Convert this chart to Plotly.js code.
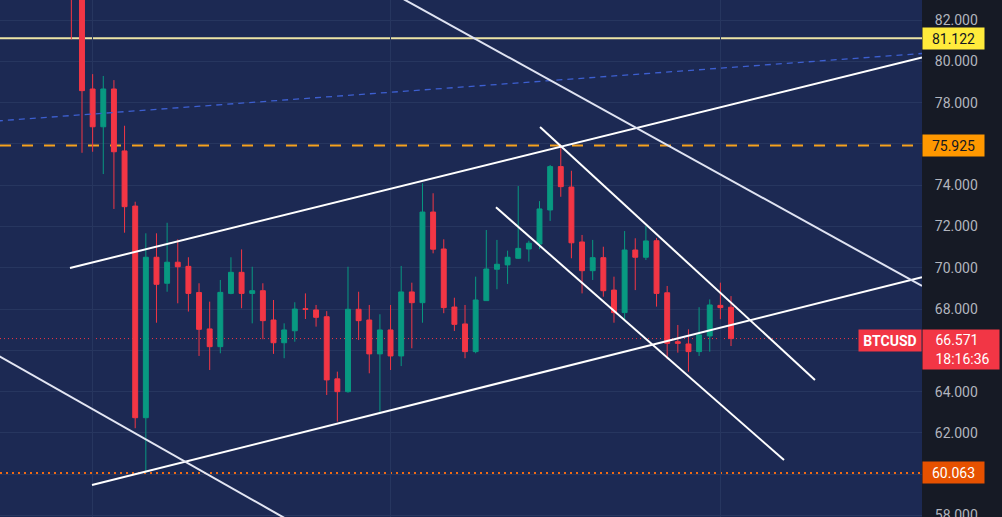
<!DOCTYPE html>
<html>
<head>
<meta charset="utf-8">
<script src="https://cdn.plot.ly/plotly-3.0.1.min.js"></script>
<style>
  html, body { margin: 0; padding: 0; background: #161a25; }
  #chart { width: 1002px; height: 517px; }
</style>
</head>
<body>
<div id="chart"></div>
<script>
// ---- Candle data (BTCUSD, values in thousands) ----
const candleIndex = [-1,0,1,2,3,4,5,6,7,8,9,10,11,12,13,14,15,16,17,18,19,20,21,22,23,24,25,26,27,28,29,30,31,32,33,34,35,36,37,38,39,40,41,42,43,44,45,46,47,48,49,50,51,52,53,54,55,56,57,58,59,60,61];
const openPrices  = [85.20,83.40,78.66,76.83,78.66,75.66,72.99,62.74,70.51,69.25,70.27,70.07,68.80,67.04,66.18,68.76,69.78,68.76,68.89,67.47,66.37,66.95,68.02,67.96,67.63,64.62,64.00,67.99,67.47,65.83,66.99,65.73,68.83,68.31,72.70,70.91,68.10,67.28,65.94,68.41,69.93,70.14,70.46,70.91,71.15,72.80,74.90,73.91,71.25,69.86,70.49,68.92,67.83,70.86,70.51,71.31,68.79,66.42,66.31,65.94,66.70,68.18,68.09];
const highPrices  = [85.60,83.60,79.38,79.29,79.09,76.88,73.20,71.67,71.67,72.18,71.38,70.51,69.25,68.36,69.41,70.51,70.89,70.05,69.25,68.44,67.31,68.33,68.76,68.20,67.90,64.97,70.05,68.84,68.20,67.75,68.20,70.09,69.28,74.09,73.61,71.38,68.55,68.20,69.57,71.83,71.35,70.83,73.96,71.31,73.23,74.98,75.95,74.70,71.59,71.35,71.02,69.57,71.78,71.43,72.02,71.44,69.12,67.23,67.02,68.09,68.47,69.28,68.63];
const lowPrices   = [81.06,75.57,75.62,74.54,72.85,71.70,62.23,60.06,67.34,68.84,68.28,67.88,65.73,65.05,65.86,68.72,68.04,67.31,66.54,65.83,65.62,66.42,67.52,67.15,63.84,62.55,63.95,66.50,64.89,63.03,65.05,65.24,66.10,67.34,70.70,67.80,66.94,65.62,65.86,68.41,68.96,69.22,70.43,70.30,70.90,72.27,73.44,70.46,68.76,69.41,68.60,67.34,67.47,68.92,70.38,68.12,65.57,65.89,64.97,65.73,65.94,67.51,66.21];
const closePrices = [83.40,78.58,76.83,78.66,75.62,72.96,62.74,70.51,69.20,70.27,70.05,68.76,67.02,66.18,68.81,69.78,68.76,68.89,67.44,66.37,66.99,68.00,67.98,67.60,64.57,64.00,67.99,67.44,65.83,66.99,65.73,68.83,68.31,72.70,70.90,68.07,67.26,65.94,68.44,69.94,70.17,70.51,70.94,71.19,72.85,74.90,73.93,71.21,69.86,70.49,68.89,67.83,70.86,70.51,71.30,68.76,66.34,66.34,65.94,66.75,68.20,68.07,66.571];

// ---- Axis ticks (labels hidden behind the price boxes are left blank) ----
const yTickValues = [58,60,62,64,66,68,70,72,74,76,78,80,82];
const yTickLabels = ["58.000","","62.000","64.000","","68.000","70.000","72.000","74.000","","78.000","80.000","82.000"];
const xGridValues = [1,29,60];

// ---- Horizontal levels ----
const resistanceLevel = 81.122;
const keyLevel = 75.925;
const supportLevel = 60.063;
const lastPrice = 66.571;
const symbolName = "BTCUSD";
const countdown = "18:16:36";

// ---- Trend lines (candle index, price) ----
const upperChannelX = [-1.13, 78.95];   const upperChannelY = [69.99, 80.19];
const lowerChannelX = [0.94, 78.95];    const lowerChannelY = [59.48, 69.54];
const longDescX = [29.0, 78.95];        const longDescY = [83.36, 69.12];
const leftDescX = [-8.0, 20.0];         const leftDescY = [65.78, 57.60];
const shortUpperX = [43.05, 68.89];     const shortUpperY = [76.82, 64.57];
const shortLowerX = [38.91, 65.98];     const shortLowerY = [72.93, 60.69];
const blueDashX = [-8.0, 78.95];        const blueDashY = [77.11, 80.38];

const GREEN = '#089981', RED = '#f23645';

function line(x, y, color, width, dash) {
  return {type:'scatter', mode:'lines', x:x, y:y, hoverinfo:'skip',
          line:{color:color, width:width, dash:dash || 'solid'}, showlegend:false};
}

const traces = [
  line(blueDashX, blueDashY, '#3d5fd0', 1.3, '6px,5px'),
  {
    type:'candlestick', x:candleIndex, open:openPrices, high:highPrices, low:lowPrices, close:closePrices,
    increasing:{line:{color:GREEN, width:1}, fillcolor:GREEN},
    decreasing:{line:{color:RED, width:1}, fillcolor:RED},
    whiskerwidth:0, hoverinfo:'skip', showlegend:false
  },
  line(upperChannelX, upperChannelY, '#ffffff', 2),
  line(lowerChannelX, lowerChannelY, '#ffffff', 2),
  line(longDescX, longDescY, '#dfe3f2', 2),
  line(leftDescX, leftDescY, '#e3e6f3', 2),
  line(shortUpperX, shortUpperY, '#ffffff', 2),
  line(shortLowerX, shortLowerY, '#ffffff', 2)
];

function hLevel(y, color, width, dash) {
  return {type:'line', xref:'paper', yref:'y', x0:0, x1:1, y0:y, y1:y, layer:'below',
          line:{color:color, width:width, dash:dash}};
}

const labelFont = {family:'Roboto, "Liberation Sans", sans-serif', size:14};

function axisLabel(y, text, bg, fg) {
  return {xref:'paper', yref:'y', x:1, y:y, xanchor:'left', yanchor:'middle', showarrow:false,
          text:text, bgcolor:bg, font:Object.assign({color:fg}, labelFont),
          width:57, height:17, borderpad:2, align:'center'};
}

const layout = {
  width:1002, height:517,
  margin:{l:0, r:80, t:0, b:0},
  paper_bgcolor:'#161a25',
  plot_bgcolor:'#1c2953',
  showlegend:false,
  hovermode:false,
  dragmode:false,
  boxgap:0.34,
  xaxis:{
    type:'linear', range:[-7.707, 78.95], rangeslider:{visible:false},
    tickvals:xGridValues, showticklabels:false, showgrid:true, gridcolor:'#27365f', gridwidth:1,
    zeroline:false, showline:false, fixedrange:true
  },
  yaxis:{
    side:'right', range:[57.93, 82.97], tickvals:yTickValues, ticktext:yTickLabels,
    ticks:'outside', ticklen:9, tickcolor:'rgba(0,0,0,0)', ticklabeloverflow:'allow',
    tickfont:{family:'Roboto, "Liberation Sans", sans-serif', size:14, color:'#b2b5be'},
    showgrid:true, gridcolor:'#27365f', gridwidth:1, zeroline:false, showline:false, fixedrange:true
  },
  shapes:[
    hLevel(resistanceLevel, '#ece4a6', 2, 'solid'),
    hLevel(keyLevel, '#f5a21e', 2, '11px,11px'),
    hLevel(supportLevel, '#f06a14', 2, '2px,4px'),
    hLevel(lastPrice, '#f23645', 1, '1px,3px')
  ],
  annotations:[
    axisLabel(resistanceLevel, String(resistanceLevel.toFixed(3)), '#ffeb3b', '#131722'),
    axisLabel(keyLevel, String(keyLevel.toFixed(3)), '#ff9800', '#131722'),
    axisLabel(supportLevel, String(supportLevel.toFixed(3)), '#e65100', '#ffffff'),
    {xref:'paper', yref:'y', x:1, y:lastPrice, xanchor:'left', yanchor:'top', yshift:10, showarrow:false,
     text:'\u00a0\u00a0\u00a0' + lastPrice.toFixed(3) + '<br>\u00a0\u00a0\u00a0' + countdown,
     bgcolor:'#f23645', font:Object.assign({color:'#ffffff'}, labelFont),
     width:72, height:35, borderpad:2, align:'left'},
    {xref:'paper', yref:'y', x:1, y:lastPrice, xanchor:'right', yanchor:'top', yshift:10, showarrow:false,
     text:symbolName, bgcolor:'#f23645', font:{family:'Roboto, "Liberation Sans", sans-serif', size:14, color:'#ffffff', weight:'bold'},
     width:58, height:17, borderpad:2, align:'center'}
  ]
};

Plotly.newPlot('chart', traces, layout, {displayModeBar:false, staticPlot:true});
</script>
</body>
</html>
